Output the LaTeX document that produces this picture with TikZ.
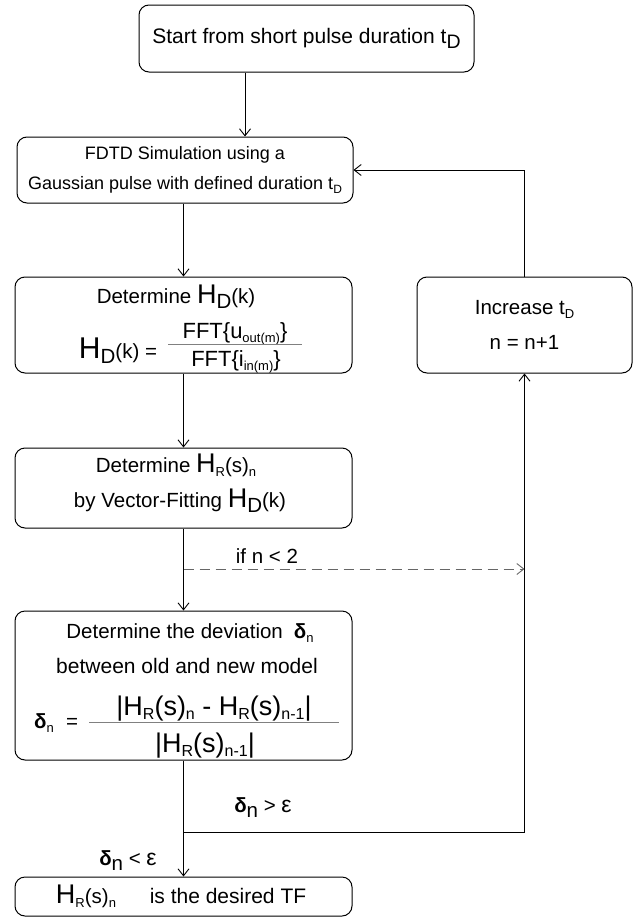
\documentclass[tikz,border=0pt]{standalone}
\usepackage{fontspec}
\setmainfont{Liberation Sans}
\usetikzlibrary{arrows.meta}
\newcommand\fsz[1]{\fontsize{#1}{#1}\selectfont}
\newcommand\lowsub[3]{\raisebox{-#1pt}{\fsz{#2}#3}}
\begin{document}
\begin{tikzpicture}[x=1pt,y=-1pt,
  box/.style={draw, rounded corners=10pt, line width=1pt, minimum width=337pt, inner sep=0pt, align=center},
  arr/.style={-{Straight Barb[length=7pt,width=11pt]}, line width=0.9pt},
  dash line/.style={black!60, dash pattern=on 10pt off 6pt},
  txt/.style={inner sep=0pt, anchor=base},
  fracline/.style={gray, line width=0.9pt}]
\useasboundingbox (0,0) rectangle (633,918);

% boxes
\node[box, minimum width=335pt, minimum height=67pt, font=\fsz{21}] (start) at (306.5,38.5)
  {Start from short pulse duration t\lowsub{5}{19.5}{D}};
\node[box, minimum width=336pt, minimum height=66pt, font=\fsz{18}] (fdtd) at (185,170)
  {FDTD Simulation using a\\[12pt]Gaussian pulse with defined duration t\lowsub{4}{12}{D}};
\node[box, minimum width=215pt, minimum height=96pt, font=\fsz{20.5}] (inc) at (524.5,325)
  {Increase t\lowsub{4}{13}{D}\\[14.5pt]n = n+1};
\node[box, minimum height=96pt] (hd) at (183.5,325) {};
\node[box, minimum height=80pt] (hr) at (183.5,488) {};
\node[box, minimum height=149pt] (dev) at (183.5,685.5) {};
\node[box, minimum height=39pt] (fin) at (183.5,896.5) {};

% H_D box text
\node[txt] (hd1) at (176,303) {\fsz{20.5}Determine {\fsz{27}H}\lowsub{5}{20.5}{D}(k)};
\node[txt] (hd2) at (118,358) {{\fsz{30}H}\fsz{20.5}\lowsub{5}{20.5}{D}(k) =};
\node[txt] (hdnum) at (235,338) {\fsz{22}FFT\{u\lowsub{4}{13}{out(m)}\}};
\draw[fracline] (168,344) -- (302,344);
\node[txt] (hdden) at (236,366) {\fsz{22}FFT\{i\lowsub{4}{13}{in(m)}\}};

% H_R box text
\node[txt] (hr1) at (176,472) {\fsz{20.5}Determine {\fsz{27}H}\lowsub{4}{13}{R}(s)\lowsub{4}{13}{n}};
\node[txt] (hr2) at (180,507) {\fsz{20.5}by Vector-Fitting {\fsz{27}H}\lowsub{5}{20.5}{D}(k)};

% deviation box text
\node[txt] (dev1) at (190,638) {\fsz{20.5}Determine the deviation\hspace{11pt}\textbf{δ}\lowsub{4}{13}{n}};
\node[txt] (dev2) at (187,673) {\fsz{21}between old and new model};
\node[txt] (dlhs) at (44,728) {\fsz{20.5}\textbf{δ}\lowsub{4}{13}{n}};
\node[txt] (deq) at (72,728) {\fsz{20.5}=};
\draw[fracline] (89,722) -- (339,722);
\node[txt] (dnum) at (214,715) {\fsz{27}|H\lowsub{4}{16}{R}(s)\lowsub{4}{16}{n} - H\lowsub{4}{16}{R}(s)\lowsub{4}{16}{n-1}|};
\node[txt] (dden) at (205,752) {\fsz{27}|H\lowsub{4}{16}{R}(s)\lowsub{4}{16}{n-1}|};

% final box text
\node[txt] (fin1) at (86,903) {{\fsz{27}H}\lowsub{4}{13}{R}\fsz{20.5}(s)\lowsub{4}{13}{n}};
\node[txt] (fin2) at (228,903) {\fsz{21}is the desired TF};

% labels
\node[txt] (lif) at (267,563) {\fsz{20.5}if n < 2};
\node[txt] (lgt) at (263,812) {\fsz{20.5}\textbf{δ}\lowsub{5}{20.5}{n} > {\fsz{23}ε}};
\node[txt] (llt) at (128,865) {\fsz{20.5}\textbf{δ}\lowsub{5}{20.5}{n} < {\fsz{23}ε}};

% connectors
\coordinate (c1) at (245,0);
\draw[arr] (start.south -| c1) -- (fdtd.north -| c1);
\draw[arr] (fdtd.south -| hd.north) -- (hd.north);
\draw[arr] (hd.south) -- (hr.north);
\draw[arr] (hr.south) -- (dev.north);
\draw[arr] (dev.south) -- (fin.north);
\coordinate (split1) at (183.5,569);
\draw[arr, dash line] (split1) -- (split1 -| inc.south);
\coordinate (split2) at (183.5,832);
\draw[arr] (split2) -| (inc.south);
\draw[arr] (inc.north) |- (fdtd.east);
\end{tikzpicture}
\end{document}
